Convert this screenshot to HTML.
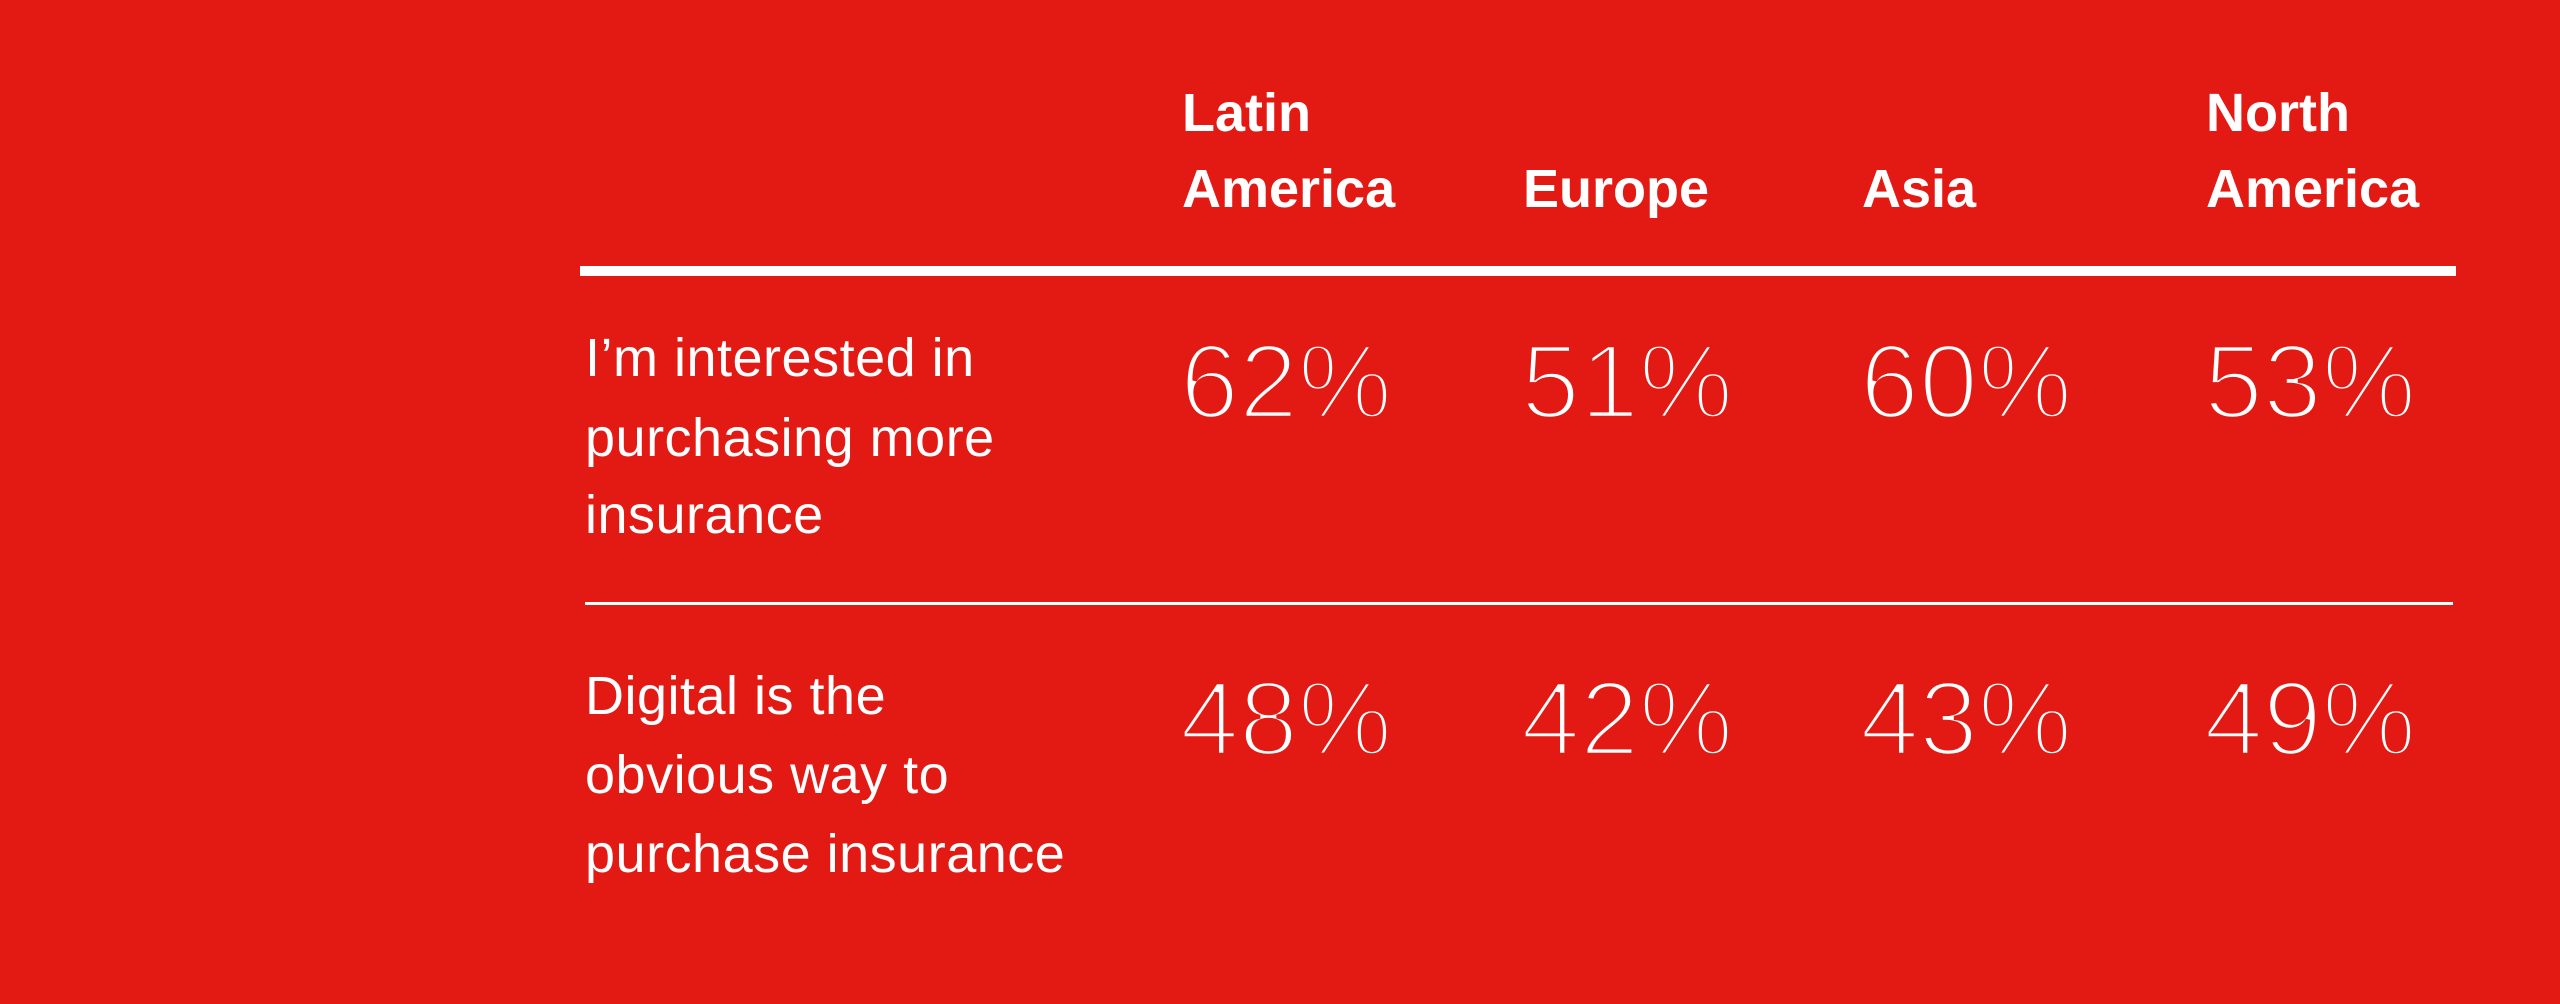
<!DOCTYPE html>
<html><head><meta charset="utf-8"><style>
html,body{margin:0;padding:0;background:#e31a14;}
svg{display:block}
.h{font-family:"Liberation Sans",sans-serif;font-weight:bold;font-size:54px;fill:#fff}
.l{font-family:"Liberation Sans",sans-serif;font-size:54px;fill:#fff;letter-spacing:0.5px}
.n{font-family:"Liberation Sans",sans-serif;font-size:106px;letter-spacing:0px;fill:#fff;stroke:#e31a14;stroke-width:4.5px}
</style></head><body>
<svg width="2560" height="1004" viewBox="0 0 2560 1004" xmlns="http://www.w3.org/2000/svg">
<rect width="2560" height="1004" fill="#e31a14"/>
<text class="h" x="1182" y="131">Latin</text>
<text class="h" x="1182" y="207">America</text>
<text class="h" x="1523" y="207">Europe</text>
<text class="h" x="1862" y="207">Asia</text>
<text class="h" x="2206" y="131">North</text>
<text class="h" x="2206" y="207">America</text>
<rect x="580" y="266" width="1876" height="10" fill="#fff"/>
<text class="l" x="585" y="376">I’m interested in</text>
<text class="l" x="585" y="456">purchasing more</text>
<text class="l" x="585" y="533">insurance</text>
<text class="n" x="1180" y="418">62%</text>
<text class="n" x="1521" y="418">51%</text>
<text class="n" x="1860" y="418">60%</text>
<text class="n" x="2204" y="418">53%</text>
<rect x="585" y="602" width="1868" height="3" fill="#fff"/>
<text class="l" x="585" y="714">Digital is the</text>
<text class="l" x="585" y="793">obvious way to</text>
<text class="l" x="585" y="872">purchase insurance</text>
<text class="n" x="1180" y="755">48%</text>
<text class="n" x="1521" y="755">42%</text>
<text class="n" x="1860" y="755">43%</text>
<text class="n" x="2204" y="755">49%</text>
</svg>
</body></html>
